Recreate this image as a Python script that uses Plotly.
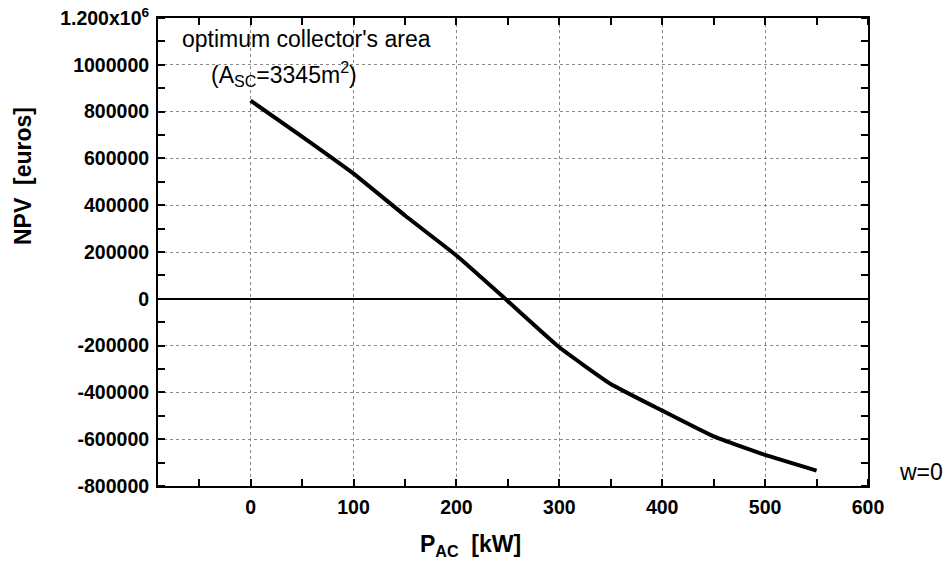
import plotly.graph_objects as go

# Data
p_ac_kw = [0, 50, 100, 150, 200, 250, 300, 350, 400, 450, 500, 550]
npv_euros = [847000, 693000, 535000, 356000, 185000, -10000, -207000,
             -364000, -478000, -588000, -667000, -734000]

x_tick_vals = [0, 100, 200, 300, 400, 500, 600]
x_tick_text = ["0", "100", "200", "300", "400", "500", "600"]
y_tick_vals = [-800000, -600000, -400000, -200000, 0, 200000, 400000,
               600000, 800000, 1000000, 1200000]
y_tick_text = ["-800000", "-600000", "-400000", "-200000", "0", "200000",
               "400000", "600000", "800000", "1000000", "1.200x10<sup>6</sup>"]

FONT = "Liberation Sans, Arial, Helvetica, sans-serif"

W, H = 945, 570
pl, pr, pt, pb = 158, 77, 18, 84
pw, ph = W - pl - pr, H - pt - pb


def px_to_paper(px, py):
    """Convert pixel position of the reference to paper coords."""
    return (px - pl) / pw, (H - pb - py) / ph


fig = go.Figure()
fig.add_trace(go.Scatter(
    x=p_ac_kw, y=npv_euros, mode="lines",
    line=dict(color="black", width=4, shape="spline", smoothing=0.4),
    showlegend=False, hoverinfo="skip",
))

axis_common = dict(
    showline=True, linecolor="black", linewidth=2, mirror="allticks",
    ticks="", ticklen=0, automargin=False, ticklabeloverflow="allow",
    showgrid=True, gridcolor="#8a8a8a", gridwidth=1, griddash="dot",
    tickfont=dict(family=FONT, size=19.5, color="black", weight="bold"),
    tickmode="array",
)

fig.update_xaxes(
    **axis_common,
    range=[-90, 600],
    tickvals=x_tick_vals, ticktext=x_tick_text,
    zeroline=False,
    ticklabelstandoff=3,
    minor=dict(ticks="inside", ticklen=7, tickwidth=2, tickcolor="black",
               dtick=50, tick0=-50, showgrid=False),
)
fig.update_yaxes(
    **axis_common,
    range=[-800000, 1200000],
    tickvals=y_tick_vals, ticktext=y_tick_text,
    zeroline=True, zerolinecolor="black", zerolinewidth=2,
    ticklabelstandoff=3,
    minor=dict(ticks="inside", ticklen=7, tickwidth=2, tickcolor="black",
               dtick=100000, tick0=-900000, showgrid=False),
)

fig.add_annotation(
    x=54, y=1111000, xref="x", yref="y", showarrow=False,
    xanchor="center", yanchor="middle",
    text="optimum collector's area",
    font=dict(family=FONT, size=23, color="black"),
)
fig.add_annotation(
    x=32, y=961000, xref="x", yref="y", showarrow=False,
    xanchor="center", yanchor="middle",
    text="(A<sub>SC</sub>=3345m<sup>2</sup>)",
    font=dict(family=FONT, size=23, color="black"),
)
wx, wy = px_to_paper(921, 472)
fig.add_annotation(
    x=wx, y=wy, xref="paper", yref="paper", showarrow=False,
    xanchor="center", yanchor="middle",
    text="w=0", font=dict(family=FONT, size=23, color="black"),
)
tx, ty = px_to_paper(23, 176)
fig.add_annotation(
    x=tx, y=ty, xref="paper", yref="paper", showarrow=False,
    xanchor="center", yanchor="middle",
    text="<b>NPV  [euros]</b>", textangle=-90,
    font=dict(family=FONT, size=23, color="black"),
)
xx, xy = px_to_paper(470, 545)
fig.add_annotation(
    x=xx, y=xy, xref="paper", yref="paper", showarrow=False,
    xanchor="center", yanchor="middle",
    text="<b>P<sub>AC</sub>  [kW]</b>",
    font=dict(family=FONT, size=23, color="black"),
)

fig.update_layout(
    width=W, height=H,
    margin=dict(l=pl, r=pr, t=pt, b=pb),
    paper_bgcolor="white", plot_bgcolor="white",
    font=dict(family=FONT, color="black"),
)

# remove the default page margin so the figure fills the 945x570 window
fig.write_html(
    "out.html",
    config={"displayModeBar": False},
    post_script="document.body.style.margin='0';"
                "document.body.style.overflow='hidden';",
)
